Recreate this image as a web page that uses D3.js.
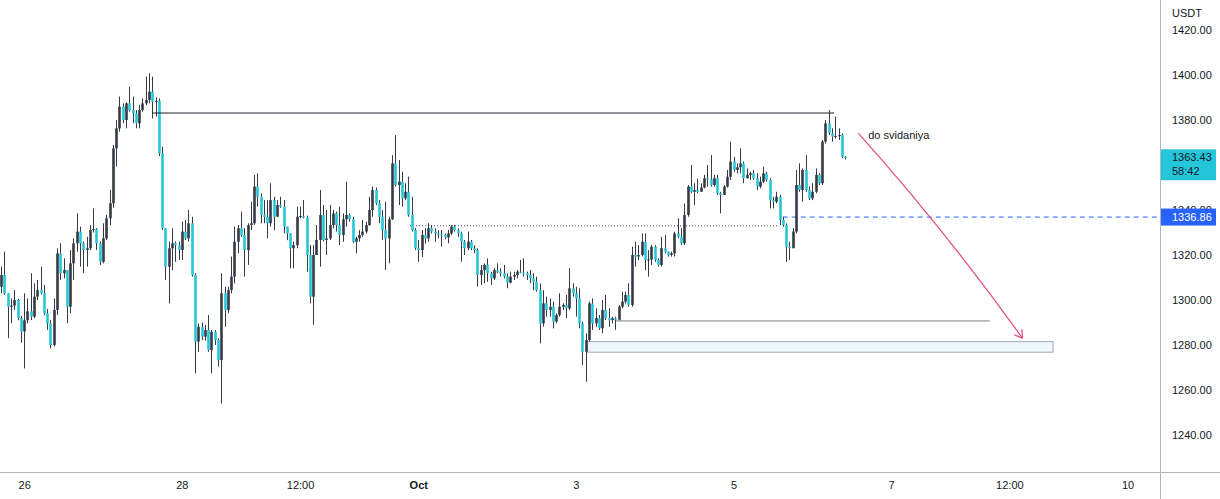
<html>
<head>
<script src="https://cdnjs.cloudflare.com/ajax/libs/d3/7.8.5/d3.min.js"></script>
<style>
  body { margin: 0; background: #ffffff; }
  text { font-family: "Liberation Sans", Arial, sans-serif; font-size: 11px; fill: #131722; }
</style>
</head>
<body>
<script>

var viz = { "width": 1220, "height": 499 };

// hourly ETH/USDT bars, open of each bar = close of the previous one
var firstBar = Date.UTC(2022, 8, 25, 17);
var firstOpen = 1305.9;

var closes = [
  1311.1,1303,1297,1297.5,1300,1292,1286,1291,1295,1292.6,1301.5,1304.4,1303,1294,1289.6,1280,1295.6,1320.7,1311.9,1313.3,
  1297,1316.3,1325.2,1330.4,1325.2,1322.2,1323,1331.1,1331.5,1325.2,1317,1327.4,1336.3,1343,1367.4,1376.3,1385.9,1380,1387.4,1384.4,
  1383,1378.5,1384.4,1387.4,1388.9,1392.6,1388.1,1388.5,1365.2,1331.9,1314.8,1323,1325.2,1324.4,1322.2,1330.4,1327.4,1334.1,1311.1,1281.5,
  1288.1,1283.7,1286.7,1277.8,1285.9,1282.2,1273.3,1303,1295.6,1304.4,1310.4,1325.9,1331.9,1328.9,1322.2,1333.3,1334.1,1350.4,1345.9,1337.8,
  1337,1334.1,1344.4,1337,1342.2,1341.5,1332.6,1329.6,1323,1324.4,1337,1337.3,1336.7,1320,1301.5,1320,1326.7,1337.8,1326.7,1327.4,
  1333.3,1338.5,1333.3,1328.9,1335.9,1337.8,1335.9,1325.9,1327.4,1328.9,1330.4,1333.3,1340,1348.9,1343,1337,1331.1,1327.4,1335.9,1360.7,
  1351.1,1352.6,1345.2,1348.1,1337.8,1331.1,1323,1322.2,1328.9,1327.4,1331.9,1330.4,1329.6,1329.3,1328.9,1327.8,1329.6,1332.6,1331.1,1329.6,
  1325.9,1323,1325.9,1323,1322.2,1311.1,1313.3,1315.6,1311.9,1309.6,1313.3,1312.6,1311.9,1310.4,1307.7,1310.4,1311.1,1312.6,1312.2,1311.9,
  1311.1,1309.6,1308.1,1304.4,1289.6,1298.5,1295.6,1297,1290.4,1293.3,1297,1297.8,1296.3,1305.2,1303,1300.7,1289.6,1277,1282.2,1298.5,
  1289.6,1292,1287.4,1295.6,1291.9,1291.1,1291.9,1291.2,1297,1299.3,1302.2,1297.8,1320,1319.3,1320,1325.9,1317.8,1318,1323.7,1317.8,
  1315.6,1323,1321.5,1320,1320.7,1329.6,1328.1,1325.2,1337.8,1350.4,1348.1,1348.9,1348.1,1350,1354.1,1353.6,1351.1,1354.1,1347.4,1346.7,
  1350.4,1354.8,1361.5,1357.8,1359,1360.7,1354.1,1355.6,1356.3,1354.1,1350.4,1352.6,1356.3,1353.3,1344.4,1343.7,1345.9,1335.6,1333.3,1323.7,
  1323,1330.4,1351.1,1348.9,1357.8,1348.9,1345.2,1348.1,1355.6,1351.9,1370.4,1378.5,1374.1,1372.6,1372.9,1373.3,1363.7,1363.43
];

var highs = [
  1314.8,1321.5,1303,1300.7,1304.4,1300.5,1293,1303,1300.7,1311.9,1307.4,1308.9,1314.8,1306.7,1296,1291.1,1300.7,1323,1325.2,1318.5,
  1313.3,1322.2,1327.4,1338.5,1332.6,1326,1328.1,1333.3,1340.7,1332,1326,1334.1,1337.8,1348.9,1368.9,1380,1390.4,1387.4,1387.8,1394.8,
  1390.4,1384.4,1386.7,1389.6,1399.3,1400.7,1399.3,1390,1389.6,1368.1,1332,1325.9,1331.9,1326,1325.9,1334.8,1335.6,1340,1337,1311.9,
  1289.6,1290,1288.9,1293.3,1286.7,1286.7,1283,1311.9,1305.9,1305.9,1319.3,1332.6,1333.3,1339.3,1331.9,1334.1,1343.7,1355.6,1356.3,1347.4,
  1344.4,1344.4,1351.9,1345.9,1344.4,1345.9,1344.4,1331.1,1328.9,1325.9,1341.5,1341.5,1344.4,1337.5,1324.4,1324.4,1333.3,1348.9,1342.2,1340,
  1342.2,1340,1339.3,1341.5,1338.5,1352.6,1338.5,1337,1328.1,1331.1,1335.6,1334.8,1345.9,1350.4,1350,1344.4,1340,1343.7,1337,1364.4,
  1373.3,1362.2,1357,1351.9,1354.8,1345.9,1331.9,1326.6,1331.1,1331.9,1334.1,1333.3,1331.9,1331.1,1331.1,1329.6,1331.1,1333.3,1333.3,1331.9,
  1330.4,1326.7,1330.4,1326.7,1324.4,1323,1315.6,1316.3,1318.5,1312.6,1314.1,1316.3,1314.1,1315.6,1311.9,1312.6,1312.6,1313.3,1317.8,1318.5,
  1312.6,1313.3,1311.9,1310.4,1307.4,1304.4,1301.5,1300.7,1299.3,1294.1,1303,1298.5,1302.2,1314.1,1307.4,1305.9,1305.2,1290.4,1285.2,1299.3,
  1300.7,1296.3,1293.3,1300,1302.2,1296.3,1292.6,1292.6,1297.8,1303.7,1303.7,1307.4,1323.7,1325.9,1324.4,1329.6,1329.6,1322.2,1324.4,1324.4,
  1318.5,1328.1,1328.9,1320.7,1321.5,1330.4,1336.3,1331.9,1342.9,1351.1,1360,1351.9,1354,1351.9,1355.6,1360,1364.4,1355.6,1355.6,1348.1,
  1351.1,1357.8,1370.4,1363.7,1360.7,1367.4,1361.5,1358.5,1357,1357.8,1356.3,1354.8,1359.3,1357,1354.1,1345.9,1348.1,1346.7,1337,1334.1,
  1325.9,1331.9,1357.8,1360.7,1358.5,1364.4,1350.4,1351.9,1358.5,1356.3,1371.1,1380,1384.4,1376.3,1381.5,1376.3,1374,1364
];

var lows = [
  1303,1302.2,1283,1289.6,1295.6,1291,1281,1269.6,1289.6,1291.1,1292,1300,1302.5,1293.3,1286.7,1278.5,1279.3,1293.3,1308.9,1309.6,
  1289.6,1294.1,1308.9,1321.5,1314.8,1311.9,1314.8,1322.2,1330,1322.2,1315.6,1316.3,1326.6,1333.3,1341,1359.3,1374.8,1378.5,1376.3,1383.7,
  1378.5,1376.3,1376.3,1383.7,1386.7,1387.4,1380.7,1381.5,1364,1331.1,1308.9,1298.5,1313.3,1317,1317.8,1317.8,1326.6,1326,1310.4,1267.4,
  1277,1282.2,1282,1277,1267.4,1280,1270.4,1254,1288.1,1294.1,1303,1307.4,1320.7,1328.1,1310.4,1315.6,1331.1,1333.3,1341.5,1334.1,
  1334.1,1327.4,1332.6,1331.1,1337,1341,1329.6,1326.6,1314.1,1314.1,1323,1336.3,1336.3,1312.6,1298.5,1289,1320,1314.8,1326,1320,
  1326.6,1331.9,1330.4,1324.4,1325.9,1332.6,1334.8,1325.2,1320.7,1325.9,1328.1,1329.6,1333,1337,1342.2,1334.1,1326.7,1313.3,1316.3,1335.6,
  1350.4,1342.2,1341.5,1344.4,1337,1330.4,1322.2,1317,1319,1325,1325.9,1329.6,1325.9,1327.4,1323.7,1327,1325.2,1328.9,1330.4,1328.1,
  1317,1320,1322.2,1322.2,1320.7,1306,1306.7,1307.4,1308.1,1306.7,1308.9,1311.9,1310.4,1309.6,1305.2,1307.4,1308.9,1309.6,1311.9,1310.4,
  1308.9,1307.4,1304.4,1303.7,1280.7,1288.1,1292.6,1292.6,1287.4,1289.6,1292.6,1295.6,1292,1295.6,1301.5,1292.6,1287.4,1271.1,1263.7,1281.5,
  1286.7,1288.1,1286.7,1285.2,1291.1,1288.1,1289.6,1286.7,1291,1296.3,1298.5,1297,1297,1314.8,1317.8,1319.3,1313.3,1310.4,1315.6,1317,
  1314.8,1314.8,1320.7,1319.3,1319.3,1319.3,1327.4,1324.4,1324.4,1337,1347.4,1342.2,1347.4,1348.1,1349.6,1350.4,1350.4,1350.4,1346.7,1338.5,
  1346.7,1350,1353.3,1357,1356.3,1356.3,1351.9,1354.1,1353.3,1353.3,1348.9,1349.6,1351.9,1352.6,1340.7,1340.7,1343,1333.3,1332.6,1317,
  1317.8,1323,1329.6,1348.1,1343.7,1348.1,1344.4,1344.4,1347.4,1351.1,1351.1,1369.6,1373.3,1370.4,1371.8,1371.1,1363,1362.5
];

// 1360.00 is hidden behind the last price label in the picture
var priceTicks = [1420, 1400, 1380, 1340, 1320, 1300, 1280, 1260, 1240];

var timeTickDates = [
  Date.UTC(2022, 8, 26), Date.UTC(2022, 8, 28), Date.UTC(2022, 8, 29, 12), Date.UTC(2022, 9, 1),
  Date.UTC(2022, 9, 3), Date.UTC(2022, 9, 5), Date.UTC(2022, 9, 7), Date.UTC(2022, 9, 8, 12), Date.UTC(2022, 9, 10)
];
var timeTickLabels = ["26", "28", "12:00", "Oct", "3", "5", "7", "12:00", "10"];

// drawings on the chart: [price, from, to]
var resistanceLine = [1383.1, Date.UTC(2022, 8, 27, 15), Date.UTC(2022, 9, 6, 6, 36)];
var dottedLine = [1333, Date.UTC(2022, 8, 30, 21, 30), Date.UTC(2022, 9, 5, 13, 30)];
var supportLine = [1290.7, Date.UTC(2022, 9, 3, 12), Date.UTC(2022, 9, 8, 6)];
var targetZone = [1281.5, 1276.8, Date.UTC(2022, 9, 3, 3, 24), Date.UTC(2022, 9, 9, 1, 18)];
var alertLine = [1336.86, Date.UTC(2022, 9, 5, 15)];
// curved arrow: start, bend, end as [time, price]
var arrowPoints = [
  [Date.UTC(2022, 9, 6, 14), 1374.2],
  [Date.UTC(2022, 9, 7, 16, 48), 1330.4],
  [Date.UTC(2022, 9, 8, 16), 1283]
];
var note = { text: "do svidaniya", t: Date.UTC(2022, 9, 6, 17), p: 1371.6 };
var lastPrice = 1363.43;
var countdown = "58:42";


var svgContainer = d3.select("body").append("svg")
                     .attr("width", viz.width)
                     .attr("height", viz.height);

var plotRight = 1160;
var plotBottom = 472;

var x = d3.scaleUtc()
          .domain([Date.UTC(2022, 8, 26), Date.UTC(2022, 9, 10)])
          .range([24.2, 1127.6]);

var y = d3.scaleLinear()
          .domain([1240, 1420])
          .range([435, 30]);

var upColor = "#363a45";
var downColor = "#26c6da";

// build bars
var bars = closes.map(function(c, i) {
  return {
    t: firstBar + i * 3600000,
    o: i == 0 ? firstOpen : closes[i - 1],
    h: highs[i],
    l: lows[i],
    c: c
  };
});

var plot = svgContainer.append("g");

// target zone first, so candles sit on top of it
plot.append("rect")
    .attr("x", x(targetZone[2]))
    .attr("y", y(targetZone[0]))
    .attr("width", x(targetZone[3]) - x(targetZone[2]))
    .attr("height", y(targetZone[1]) - y(targetZone[0]))
    .attr("fill", "#eef8fc")
    .attr("stroke", "#a3a6ae")
    .attr("stroke-width", 1);

plot.append("line")
    .attr("x1", x(supportLine[1])).attr("x2", x(supportLine[2]))
    .attr("y1", y(supportLine[0])).attr("y2", y(supportLine[0]))
    .attr("stroke", "#7d8089").attr("stroke-width", 1);

plot.append("line")
    .attr("x1", x(dottedLine[1])).attr("x2", x(dottedLine[2]))
    .attr("y1", y(dottedLine[0])).attr("y2", y(dottedLine[0]))
    .attr("stroke", "#434651").attr("stroke-width", 1)
    .attr("stroke-dasharray", "1,2");

plot.append("line")
    .attr("x1", x(alertLine[1])).attr("x2", plotRight)
    .attr("y1", y(alertLine[0])).attr("y2", y(alertLine[0]))
    .attr("stroke", "#2962ff").attr("stroke-width", 1)
    .attr("stroke-dasharray", "5,4");

// candles
var candle = plot.selectAll("g.bar").data(bars).enter().append("g").attr("class", "bar");

candle.append("line")
      .attr("x1", function(d) { return Math.round(x(d.t)) + 0.5; })
      .attr("x2", function(d) { return Math.round(x(d.t)) + 0.5; })
      .attr("y1", function(d) { return y(Math.max(d.h, d.o, d.c)); })
      .attr("y2", function(d) { return y(Math.min(d.l, d.o, d.c)); })
      .attr("stroke", upColor)
      .attr("stroke-width", 1);

candle.append("rect")
      .attr("x", function(d) { return Math.round(x(d.t)) + 0.5 - 1.3; })
      .attr("width", 2.6)
      .attr("y", function(d) { return y(Math.max(d.o, d.c)); })
      .attr("height", function(d) { return Math.max(1, Math.abs(y(d.o) - y(d.c))); })
      .attr("fill", function(d) { return d.c >= d.o ? upColor : downColor; });

// resistance line over the candles
plot.append("line")
    .attr("x1", x(resistanceLine[1])).attr("x2", x(resistanceLine[2]))
    .attr("y1", y(resistanceLine[0])).attr("y2", y(resistanceLine[0]))
    .attr("stroke", "#1e222d").attr("stroke-width", 1);

// curved arrow
var p0 = [x(arrowPoints[0][0]), y(arrowPoints[0][1])];
var p1 = [x(arrowPoints[1][0]), y(arrowPoints[1][1])];
var p2 = [x(arrowPoints[2][0]), y(arrowPoints[2][1])];
var curve = d3.path();
curve.moveTo(p0[0], p0[1]);
curve.quadraticCurveTo(p1[0], p1[1], p2[0], p2[1]);
plot.append("path")
    .attr("d", curve.toString())
    .attr("fill", "none")
    .attr("stroke", "#e2487c")
    .attr("stroke-width", 1.2);

var ang = Math.atan2(p2[1] - p1[1], p2[0] - p1[0]);
[-0.55, 0.55].forEach(function(off) {
  plot.append("line")
      .attr("x1", p2[0]).attr("y1", p2[1])
      .attr("x2", p2[0] - 9 * Math.cos(ang + off))
      .attr("y2", p2[1] - 9 * Math.sin(ang + off))
      .attr("stroke", "#e2487c").attr("stroke-width", 1.2);
});

plot.append("text")
    .attr("x", x(note.t))
    .attr("y", y(note.p))
    .text(note.text);

// frame lines
svgContainer.append("line")
    .attr("x1", plotRight + 0.5).attr("x2", plotRight + 0.5)
    .attr("y1", 0).attr("y2", viz.height)
    .attr("stroke", "#b2b5be");
svgContainer.append("line")
    .attr("x1", 0).attr("x2", viz.width)
    .attr("y1", plotBottom + 0.5).attr("y2", plotBottom + 0.5)
    .attr("stroke", "#b2b5be");

// price axis
var yAxis = d3.axisRight(y)
              .tickValues(priceTicks)
              .tickFormat(d3.format(".2f"))
              .tickSize(0)
              .tickPadding(12);
var yG = svgContainer.append("g")
    .attr("transform", "translate(" + plotRight + ",0)")
    .call(yAxis);
yG.select(".domain").remove();
yG.selectAll("text").attr("font-family", null).attr("font-size", null).attr("fill", null);

svgContainer.append("text")
    .attr("x", plotRight + 12)
    .attr("y", 17)
    .text("USDT");

// time axis
var xAxis = d3.axisBottom(x)
              .tickValues(timeTickDates)
              .tickFormat(function(d, i) { return timeTickLabels[i]; })
              .tickSize(0)
              .tickPadding(9);
var xG = svgContainer.append("g")
    .attr("transform", "translate(0," + plotBottom + ")")
    .call(xAxis);
xG.select(".domain").remove();
xG.selectAll("text").attr("font-family", null).attr("font-size", null).attr("fill", null)
  .attr("font-weight", function(d, i) { return timeTickLabels[i] == "Oct" ? "bold" : null; });

// last price label
var lp = y(lastPrice);
svgContainer.append("rect")
    .attr("x", plotRight + 1).attr("y", lp - 8)
    .attr("width", 55).attr("height", 31)
    .attr("fill", downColor);
svgContainer.append("text")
    .attr("x", plotRight + 12).attr("y", lp + 4)
    .text(d3.format(".2f")(lastPrice));
svgContainer.append("text")
    .attr("x", plotRight + 12).attr("y", lp + 18)
    .text(countdown);

// alert price label
var ap = y(alertLine[0]);
svgContainer.append("rect")
    .attr("x", plotRight + 1).attr("y", ap - 8.5)
    .attr("width", 55).attr("height", 17)
    .attr("fill", "#2962ff");
svgContainer.append("text")
    .attr("x", plotRight + 12).attr("y", ap + 4)
    .style("fill", "#ffffff")
    .text(d3.format(".2f")(alertLine[0]));

</script>
</body>
</html>
